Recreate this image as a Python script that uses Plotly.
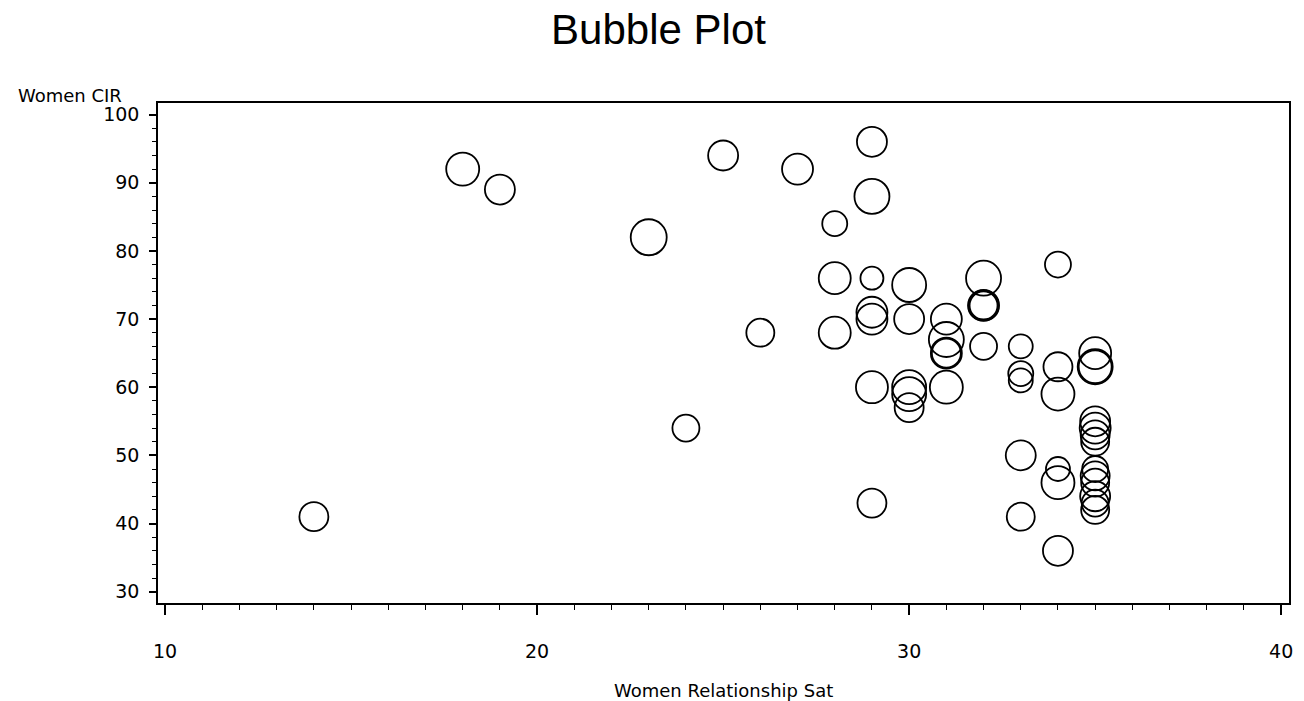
import plotly.graph_objects as go

# Data
rel_sat = [14, 18, 19, 23, 24, 25, 26, 27, 28, 28, 28,
           29, 29, 29, 29, 29, 29, 29,
           30, 30, 30, 30, 30,
           31, 31, 31, 31, 31,
           32, 32, 32, 32, 32,
           33, 33, 33, 33, 33,
           34, 34, 34, 34, 34, 34,
           35, 35, 35, 35, 35, 35, 35, 35, 35, 35, 35, 35, 35]
cir = [41, 92, 89, 82, 54, 94, 68, 92, 84, 76, 68,
       96, 88, 76, 71, 70, 60, 43,
       75, 70, 60, 59, 57,
       70, 67, 65, 65, 60,
       76, 72, 72, 72, 66,
       66, 62, 61, 50, 41,
       78, 63, 59, 48, 46, 36,
       65, 63, 63, 55, 54, 53, 52, 48, 47, 46, 44, 43, 42]
bubble_size = [29, 33, 30, 36, 27, 30, 28, 31, 25, 32, 32,
               30, 35, 23, 31, 31, 32, 29,
               34, 30, 34, 34, 29,
               31, 35, 29, 31, 33,
               35, 28, 30, 31, 27,
               24, 25, 24, 30, 28,
               26, 29, 33, 24, 33, 30,
               32, 35, 33, 30, 31, 29, 28, 26, 29, 28, 30, 27, 28]

title_text = "Bubble Plot"
x_title = "Women Relationship Sat"
y_title = "Women CIR"
x_ticks = [10, 20, 30, 40]
y_ticks = [30, 40, 50, 60, 70, 80, 90, 100]

fig = go.Figure()
fig.add_trace(go.Scatter(
    x=rel_sat, y=cir, mode="markers",
    marker=dict(symbol="circle-open", size=bubble_size, sizemode="diameter",
                sizeref=1, color="black", opacity=1,
                line=dict(width=1.8, color="black")),
    showlegend=False, hoverinfo="x+y",
))

tick_font = dict(family="DejaVu Sans", size=19, color="black")

fig.update_layout(
    width=1304, height=701,
    margin=dict(l=158, r=11, t=103, b=98),
    paper_bgcolor="white", plot_bgcolor="white",
    title=dict(text=title_text, x=0.505, xref="container", xanchor="center",
               y=1 - 29 / 701, yref="container", yanchor="middle",
               font=dict(family="Liberation Sans", size=42, color="black")),
    xaxis=dict(range=[9.81, 40.21], tickvals=x_ticks, ticktext=[str(v) for v in x_ticks],
               showgrid=False, zeroline=False, showline=True, linecolor="black",
               linewidth=1.5, mirror=True, ticks="outside", ticklen=10, tickwidth=1.5,
               tickcolor="black", tickfont=tick_font, ticklabelstandoff=20,
               minor=dict(dtick=1, tick0=0, ticks="outside", ticklen=5,
                          tickwidth=1.2, tickcolor="black", showgrid=False)),
    yaxis=dict(range=[28.34, 101.7], tickvals=y_ticks, ticktext=[str(v) for v in y_ticks],
               showgrid=False, zeroline=False, showline=True, linecolor="black",
               linewidth=1.5, mirror=True, ticks="outside", ticklen=7, tickwidth=1.5,
               tickcolor="black", tickfont=tick_font, ticklabelstandoff=6,
               minor=dict(dtick=2, tick0=0, ticks="outside", ticklen=4,
                          tickwidth=1.2, tickcolor="black", showgrid=False)),
    annotations=[
        dict(text=x_title, xref="paper", yref="paper", x=0.5, y=(603 - 690) / 500,
             xanchor="center", yanchor="middle", showarrow=False,
             font=dict(family="DejaVu Sans", size=18, color="black")),
        dict(text=y_title, xref="paper", yref="paper", x=(15 - 158) / 1135,
             y=(603 - 95) / 500, xanchor="left", yanchor="middle", showarrow=False,
             font=dict(family="DejaVu Sans", size=18, color="black")),
    ],
)

fig.write_html("out.html")
